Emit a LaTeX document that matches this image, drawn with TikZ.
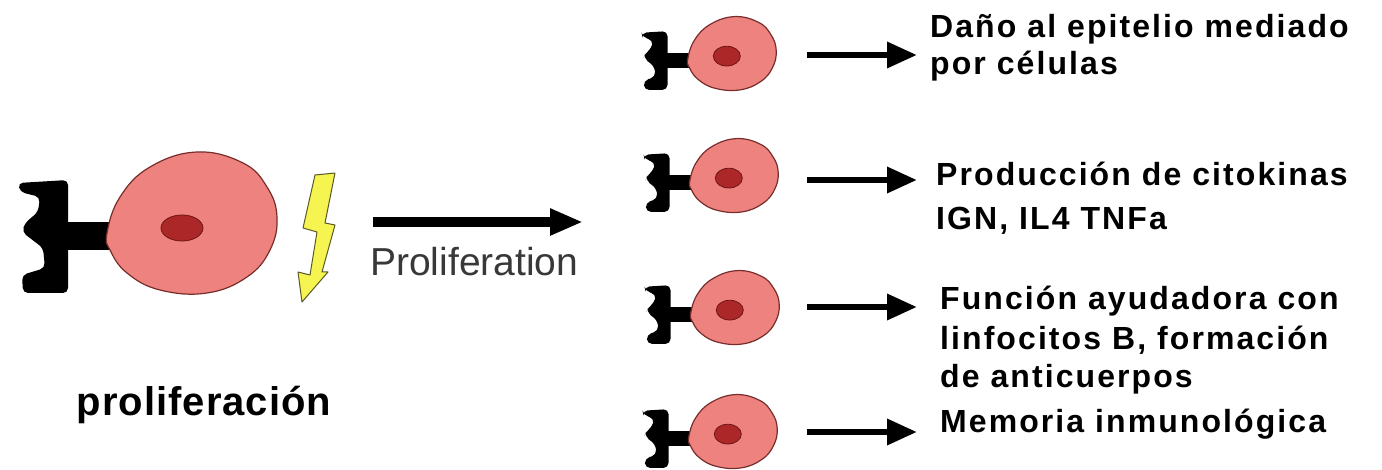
\documentclass[tikz,border=0pt]{standalone}
\usepackage{fontspec}
\setmainfont{Liberation Sans}
\newfontfamily\labelfont[LetterSpace=6.5]{Liberation Sans Bold}
\newfontfamily\captionfont[LetterSpace=2.5]{Liberation Sans Bold}
\usetikzlibrary{arrows.meta}

\definecolor{cellpink}{RGB}{238,130,126}
\definecolor{cellrim}{RGB}{120,45,45}
\definecolor{nucred}{RGB}{172,40,40}
\definecolor{nucrim}{RGB}{110,20,20}
\definecolor{boltyellow}{RGB}{246,244,80}
\definecolor{boltrim}{RGB}{90,90,40}

\tikzset{
  receptor/.style={fill=black},
  cellbody/.style={fill=cellpink, draw=cellrim, line width=1.2pt},
  nucleus/.style={fill=nucred, draw=nucrim, line width=0.8pt},
  bigarrow/.style={line width=10pt, -{Triangle[length=33pt,width=25pt]}},
  smallarrow/.style={line width=6.5pt, -{Triangle[length=30pt,width=25pt]}},
  % multi-line labels: base anchor sits on the last line
  effect/.style={anchor=base west, inner sep=0pt, align=left, text=black},
  % T cell: receptor on the left, cell body and nucleus, centred on the body;
  % the two arguments are the nucleus radii
  pics/tcell/.style n args={2}{code={
    \fill[receptor] (-126,0) rectangle (-80,28);
    \fill[receptor, rounded corners=5]
      (-174,-39) -- (-124,-42) -- (-124,71) -- (-169,71) -- (-170,53)
      -- (-147,46) -- (-149,26) -- (-170,10) -- (-167,1) -- (-154,-10)
      -- (-152,-25) -- (-172,-30) -- cycle;
    \draw[cellbody] plot[smooth cycle, tension=0.7] coordinates {
      (-85,11) (-72,-25) (-42,-55) (5,-70) (51,-59) (75,-35) (85,-5)
      (78,28) (55,55) (15,71) (-32,68) (-65,51) (-82,28)};
    \draw[nucleus] (-10,6) ellipse [x radius=#1, y radius=#2];
  }}
}

\begin{document}
\begin{tikzpicture}[x=1pt, y=-1pt]
  \useasboundingbox[fill=white] (0,0) rectangle (1382,470);

  % activated cell with stimulus
  \coordinate (bigcell) at (192,222);
  \pic at (bigcell) {tcell={21}{13}};
  \draw[fill=boltyellow, draw=boltrim, line width=1pt, line join=round]
    (315,175) -- (335,173) -- (325,223) -- (335,225) -- (322,272)
    -- (328,272) -- (302,302) -- (298,272) -- (310,275) -- (317,232)
    -- (303,228) -- cycle;
  \node[font=\captionfont\fontsize{40}{44}\selectfont, anchor=base, inner sep=0pt]
    (caption) at (204,415) {proliferación};

  % proliferation step
  \coordinate (proS) at (373,222);
  \coordinate (proE) at (583,222);
  \draw[bigarrow] (proS) -- (proE);
  \node[font=\fontsize{39}{44}\selectfont, text=black!78, anchor=base west, inner sep=0pt]
    (prolab) at (370,276) {Proliferation};

  % daughter cells
  \coordinate (cell1) at (732,53);
  \coordinate (cell2) at (734,175);
  \coordinate (cell3) at (735,307);
  \coordinate (cell4) at (733,431);
  \foreach \c in {cell1,cell2,cell3,cell4}
    \pic[scale=0.52] at (\c) {tcell={26}{19}};

  % effector functions
  \coordinate (a1s) at (807,55);  \coordinate (a1e) at (917,55);
  \coordinate (a2s) at (807,180); \coordinate (a2e) at (917,180);
  \coordinate (a3s) at (807,307); \coordinate (a3e) at (917,307);
  \coordinate (a4s) at (807,432); \coordinate (a4e) at (917,432);
  \draw[smallarrow] (a1s) -- (a1e);
  \draw[smallarrow] (a2s) -- (a2e);
  \draw[smallarrow] (a3s) -- (a3e);
  \draw[smallarrow] (a4s) -- (a4e);

  \node[effect, font=\labelfont\fontsize{32}{37}\selectfont] (t1) at (930,75)
    {Daño al epitelio mediado\\por células};
  \node[effect, font=\labelfont\fontsize{32}{44}\selectfont] (t2) at (936,230)
    {Producción de citokinas\\IGN, IL4 TNFa};
  \node[effect, font=\labelfont\fontsize{32}{39}\selectfont] (t3) at (940,388)
    {Función ayudadora con\\linfocitos B, formación\\de anticuerpos};
  \node[effect, font=\labelfont\fontsize{32}{44}\selectfont] (t4) at (940,432)
    {Memoria inmunológica};
\end{tikzpicture}
\end{document}
